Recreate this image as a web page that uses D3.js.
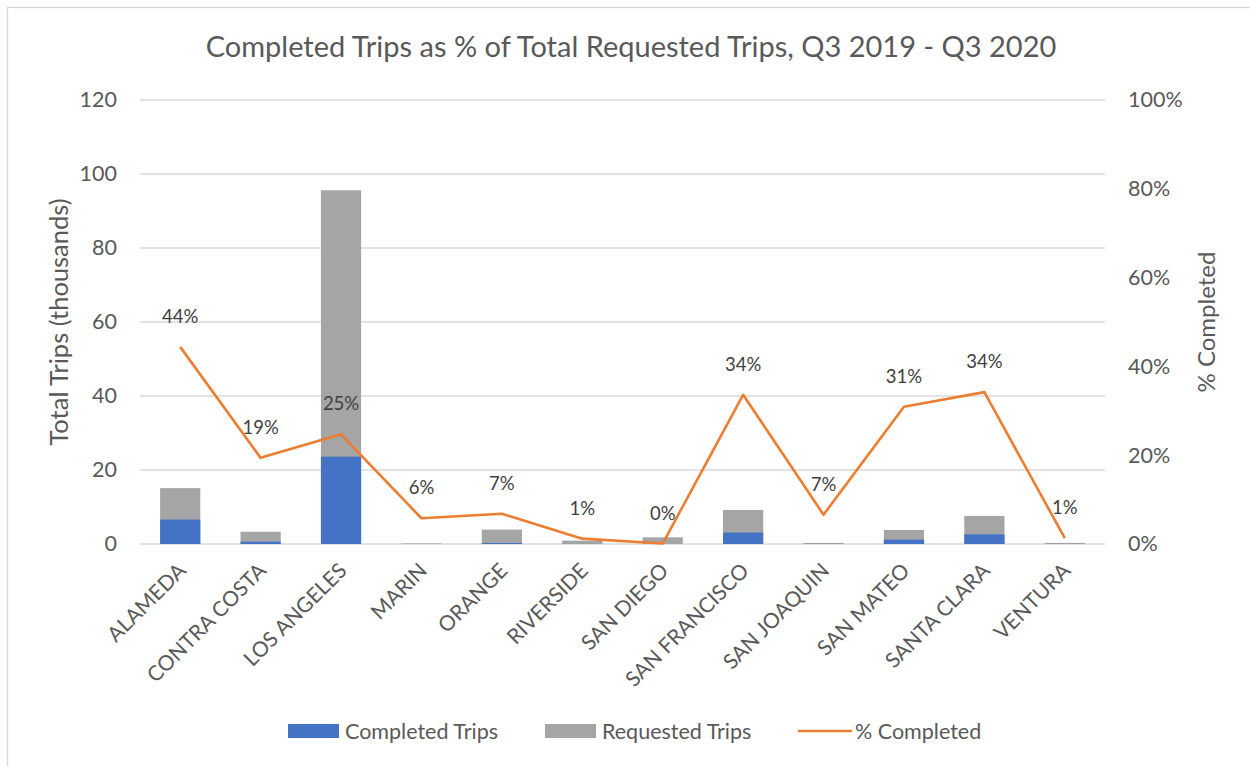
<!DOCTYPE html>
<html>
<head>
<meta charset="utf-8">
<script src="https://cdn.jsdelivr.net/npm/d3@7"></script>
<style>
  body { margin: 0; background: #fff; }
  text { font-family: Lato, "Open Sans", sans-serif; fill: #595959; }
</style>
</head>
<body>
<svg id="chart"></svg>
<script>
const counties = ["ALAMEDA", "CONTRA COSTA", "LOS ANGELES", "MARIN", "ORANGE", "RIVERSIDE",
  "SAN DIEGO", "SAN FRANCISCO", "SAN JOAQUIN", "SAN MATEO", "SANTA CLARA", "VENTURA"];
// thousands of trips
const requestedTrips = [15.1, 3.3, 95.6, 0.15, 3.9, 0.9, 1.8, 9.2, 0.3, 3.8, 7.6, 0.3];
const completedTrips = [6.6, 0.63, 23.6, 0.01, 0.27, 0.01, 0.0, 3.1, 0.02, 1.18, 2.6, 0.004];
const pctCompleted = [0.444, 0.194, 0.247, 0.058, 0.068, 0.012, 0.001, 0.336, 0.066, 0.309, 0.342, 0.013];
const pctLabels = ["44%", "19%", "25%", "6%", "7%", "1%", "0%", "34%", "7%", "31%", "34%", "1%"];
const leftTicks = [0, 20, 40, 60, 80, 100, 120];
const rightTicks = [0, 0.2, 0.4, 0.6, 0.8, 1.0];

const width = 1250, height = 766;
const margin = { top: 100, right: 145, bottom: 222, left: 140 };

const svg = d3.select("#chart").attr("width", width).attr("height", height);

// chart frame
svg.append("rect")
  .attr("x", 7.5).attr("y", 7.5)
  .attr("width", width + 20).attr("height", height + 20)
  .attr("fill", "none").attr("stroke", "#d9d9d9").attr("stroke-width", 1.3);

const x = d3.scaleBand().domain(counties)
  .range([margin.left, width - margin.right]).paddingInner(0.5).paddingOuter(0.25);
const y = d3.scaleLinear().domain([0, 120]).range([height - margin.bottom, margin.top]);
const y2 = d3.scaleLinear().domain([0, 1]).range([height - margin.bottom, margin.top]);

// gridlines
svg.append("g")
  .selectAll("line").data(leftTicks).join("line")
  .attr("x1", margin.left).attr("x2", width - margin.right)
  .attr("y1", d => y(d)).attr("y2", d => y(d))
  .attr("stroke", "#d9d9d9").attr("stroke-width", 1.3);

// left axis labels
const yAxis = svg.append("g")
  .attr("transform", `translate(${margin.left - 23},0)`)
  .call(d3.axisLeft(y).tickValues(leftTicks).tickSize(0).tickPadding(0));
yAxis.select(".domain").remove();
yAxis.selectAll("text").attr("font-size", 21.5).style("font-family", "Lato, sans-serif");

// right axis labels
const yAxis2 = svg.append("g")
  .attr("transform", `translate(${width - margin.right + 23},0)`)
  .call(d3.axisRight(y2).tickValues(rightTicks).tickSize(0).tickPadding(0).tickFormat(d3.format(".0%")));
yAxis2.select(".domain").remove();
yAxis2.selectAll("text").attr("font-size", 21.5).style("font-family", "Lato, sans-serif");

// requested bars (behind)
svg.append("g").selectAll("rect").data(counties).join("rect")
  .attr("x", d => x(d))
  .attr("width", x.bandwidth())
  .attr("y", (d, i) => y(requestedTrips[i]))
  .attr("height", (d, i) => y(0) - y(requestedTrips[i]))
  .attr("fill", "#a5a5a5");

// completed bars (front)
svg.append("g").selectAll("rect").data(counties).join("rect")
  .attr("x", d => x(d))
  .attr("width", x.bandwidth())
  .attr("y", (d, i) => y(completedTrips[i]))
  .attr("height", (d, i) => y(0) - y(completedTrips[i]))
  .attr("fill", "#4472c4");

// % completed line
const line = d3.line()
  .x((d, i) => x(counties[i]) + x.bandwidth() / 2)
  .y(d => y2(d));
svg.append("path").datum(pctCompleted)
  .attr("d", line)
  .attr("fill", "none")
  .attr("stroke", "#ed7d31")
  .attr("stroke-width", 2.6)
  .attr("stroke-linejoin", "round");

svg.append("g").selectAll("text").data(pctCompleted).join("text")
  .attr("x", (d, i) => x(counties[i]) + x.bandwidth() / 2)
  .attr("y", d => y2(d) - 24)
  .attr("text-anchor", "middle")
  .attr("font-size", 18.5)
  .style("fill", "#404040")
  .text((d, i) => pctLabels[i]);

// x axis labels
const xAxis = svg.append("g")
  .attr("transform", `translate(0,${height - margin.bottom})`)
  .call(d3.axisBottom(x).tickSize(0).tickPadding(0));
xAxis.select(".domain").remove();
xAxis.selectAll("text")
  .attr("font-size", 21)
  .style("font-family", "Lato, sans-serif")
  .attr("text-anchor", "end")
  .attr("dy", null)
  .attr("transform", "translate(7,28) rotate(-45)");

// title
svg.append("text")
  .attr("x", 631).attr("y", 57)
  .attr("text-anchor", "middle")
  .attr("font-size", 29)
  .text("Completed Trips as % of Total Requested Trips, Q3 2019 - Q3 2020");

// axis titles
svg.append("text")
  .attr("transform", `translate(68,${(y(0) + y(120)) / 2}) rotate(-90)`)
  .attr("text-anchor", "middle")
  .attr("font-size", 25.5)
  .text("Total Trips (thousands)");

svg.append("text")
  .attr("transform", `translate(1215,${(y(0) + y(120)) / 2}) rotate(-90)`)
  .attr("text-anchor", "middle")
  .attr("font-size", 24)
  .text("% Completed");

// legend
const legendItems = [
  { name: "Completed Trips", color: "#4472c4", type: "rect", x: 288 },
  { name: "Requested Trips", color: "#a5a5a5", type: "rect", x: 545 },
  { name: "% Completed", color: "#ed7d31", type: "line", x: 798 }
];
const legend = svg.append("g");
legendItems.forEach(item => {
  const g = legend.append("g").attr("transform", `translate(${item.x},731)`);
  if (item.type === "rect") {
    g.append("rect").attr("x", 0).attr("y", -7).attr("width", 51).attr("height", 14).attr("fill", item.color);
  } else {
    g.append("line").attr("x1", 0).attr("x2", 54).attr("y1", 0).attr("y2", 0)
      .attr("stroke", item.color).attr("stroke-width", 2.6);
  }
  g.append("text").attr("x", 57).attr("y", 8).attr("font-size", 21.5).text(item.name);
});
</script>
</body>
</html>
